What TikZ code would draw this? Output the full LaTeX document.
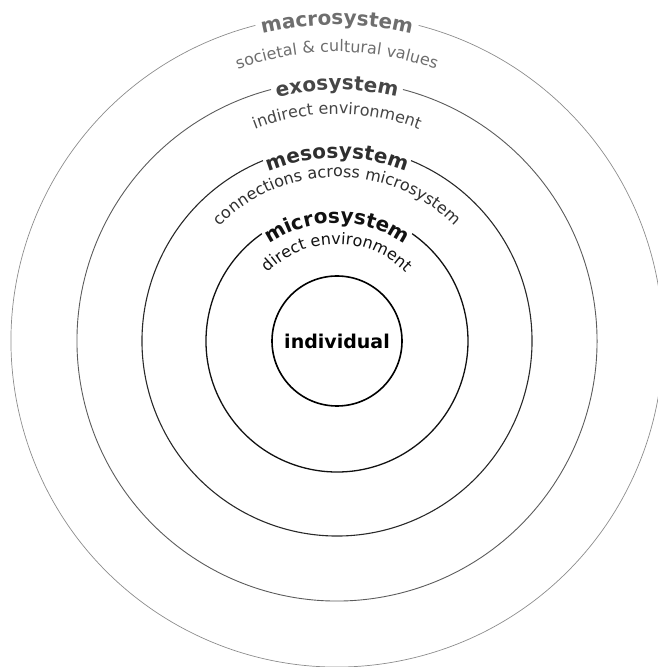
\documentclass[tikz,border=0pt]{standalone}
\usepackage{fontspec}
\setmainfont{DejaVu Sans}
\usetikzlibrary{decorations.text,calc}
\definecolor{macroC}{HTML}{6E6E6E}
\definecolor{macroL}{HTML}{8C8C8C}
\definecolor{exoC}{HTML}{464646}
\definecolor{exoL}{HTML}{5C5C5C}
\definecolor{mesoC}{HTML}{2E2E2E}
\definecolor{mesoL}{HTML}{2A2A2A}
\definecolor{microC}{HTML}{111111}
\newcommand{\titlefont}{\fontsize{20}{24}\selectfont\bfseries}
\newcommand{\subfont}{\fontsize{16}{19}\selectfont}
\tikzset{
  ringtext/.style={decorate, decoration={text along path, text align=center, text color=#1}},
}
\begin{document}
\begin{tikzpicture}[x=1pt,y=1pt]
\useasboundingbox (0,0) rectangle (657,667);
\coordinate (c) at (337,326);
% individual
\node[circle, draw=black, line width=1.6pt, minimum size=130pt, inner sep=0pt,
      font=\fontsize{19}{22}\selectfont\bfseries] (ind) at (c) {individual};
% rings with gaps
\draw[microC, line width=1.3pt] ($(c)+(125:131)$) arc[start angle=125, end angle=415, radius=131];
\draw[mesoL, line width=1.1pt] ($(c)+(112.3:195)$) arc[start angle=112.3, end angle=427.7, radius=195];
\draw[exoL, line width=0.9pt] ($(c)+(104.7:260)$) arc[start angle=104.7, end angle=435.3, radius=260];
\draw[macroL, line width=0.7pt] ($(c)+(104.5:326)$) arc[start angle=104.5, end angle=435.5, radius=326];
% titles
\path[ringtext=macroC, decoration={text={|\titlefont|macrosystem}}]
  ($(c)+(170:316)$) coordinate (mat) arc[start angle=170, end angle=10, radius=316];
\path[ringtext=macroC, decoration={text={|\subfont|societal {\&} cultural values}}]
  ($(c)+(170:289)$) coordinate (mas) arc[start angle=170, end angle=10, radius=289];
\path[ringtext=exoC, decoration={text={|\titlefont|exosystem}}]
  ($(c)+(170:251)$) coordinate (ext) arc[start angle=170, end angle=10, radius=251];
\path[ringtext=exoC, decoration={text={|\subfont|indirect environment}}]
  ($(c)+(170:227)$) coordinate (exs) arc[start angle=170, end angle=10, radius=227];
\path[ringtext=mesoC, decoration={text={|\titlefont|mesosystem}}]
  ($(c)+(170:183)$) coordinate (met) arc[start angle=170, end angle=10, radius=183];
\path[ringtext=mesoC, decoration={text={|\subfont|connections across microsystem}}]
  ($(c)+(175:164)$) coordinate (mes) arc[start angle=175, end angle=5, radius=164];
\path[ringtext=microC, decoration={text={|\titlefont|microsystem}}]
  ($(c)+(175:118)$) coordinate (mit) arc[start angle=175, end angle=5, radius=118];
\path[ringtext=microC, decoration={text={|\subfont|direct environment}}]
  ($(c)+(178:97)$) coordinate (mis) arc[start angle=178, end angle=2, radius=97];
\end{tikzpicture}
\end{document}
